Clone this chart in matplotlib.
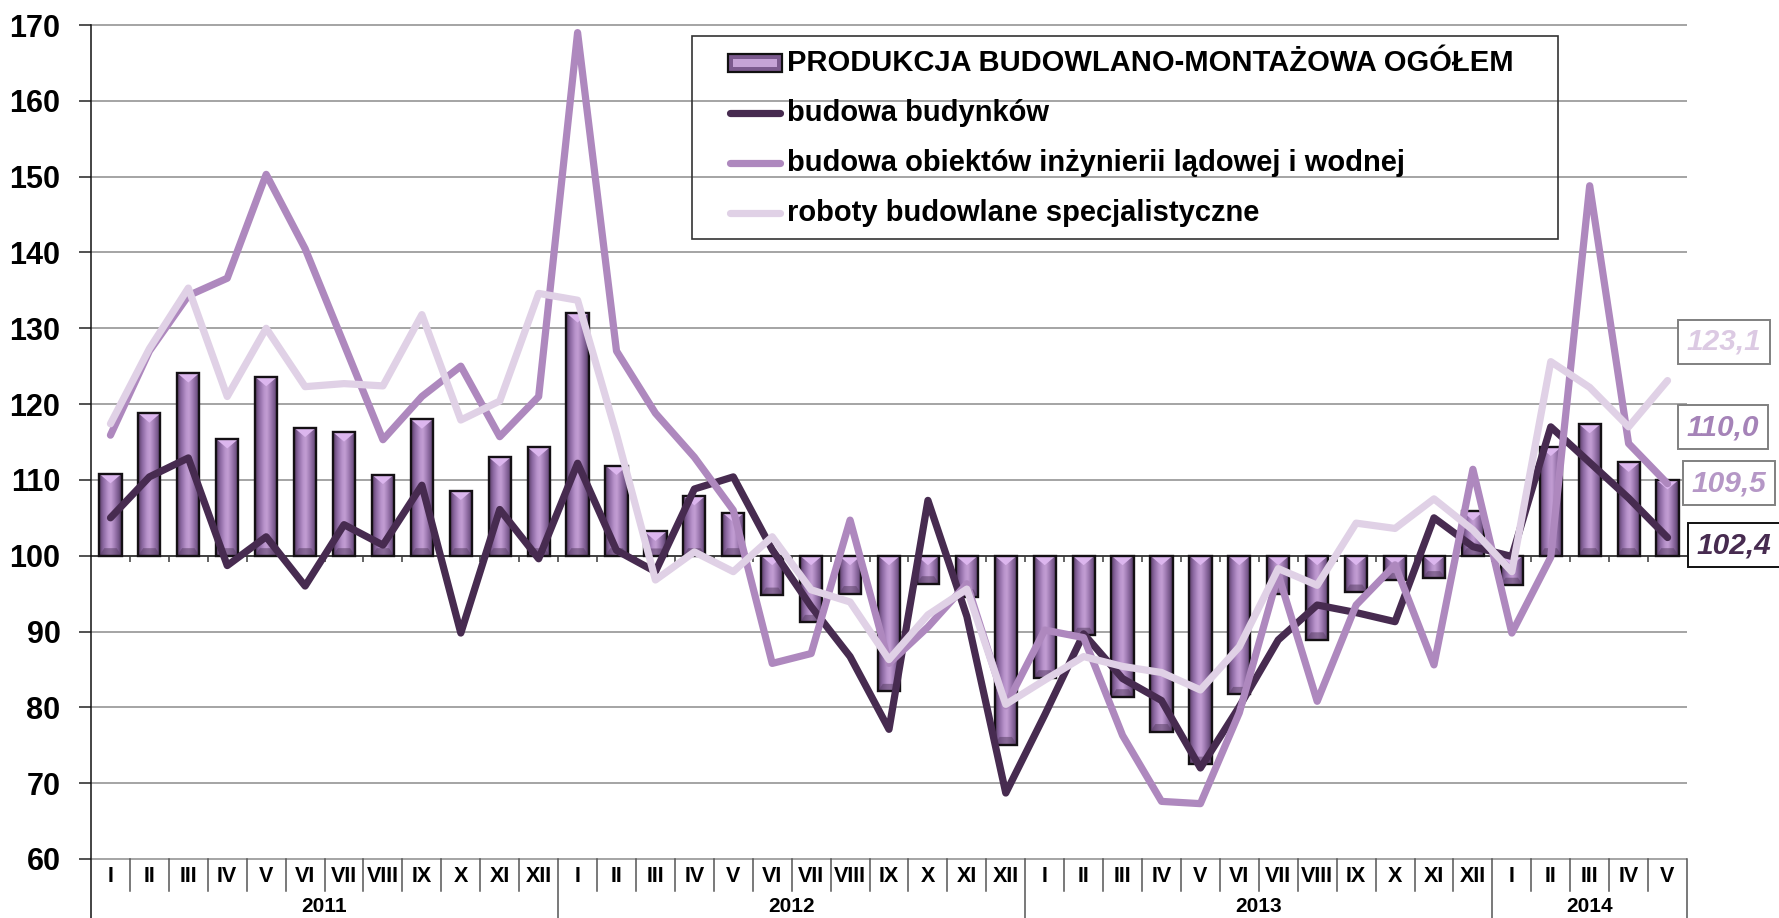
import numpy as np
import matplotlib
matplotlib.use('Agg')
import matplotlib.pyplot as plt
import matplotlib.transforms as mtransforms
from matplotlib.colors import LinearSegmentedColormap
from matplotlib.patches import Rectangle, Polygon
from matplotlib.lines import Line2D

plt.rcParams['font.family'] = ['Liberation Sans', 'DejaVu Sans']

# ---------------- data ----------------
years = ['2011', '2012', '2013', '2014']
months_per_year = [12, 12, 12, 5]
roman = ['I', 'II', 'III', 'IV', 'V', 'VI', 'VII', 'VIII', 'IX', 'X', 'XI', 'XII']
month_labels = [roman[m] for n in months_per_year for m in range(n)]

series_names = ['PRODUKCJA BUDOWLANO-MONTAŻOWA OGÓŁEM',
                'budowa budynków',
                'budowa obiektów inżynierii lądowej i wodnej',
                'roboty budowlane specjalistyczne']

ogolem = [110.8, 118.8, 124.1, 115.4, 123.6, 116.9, 116.3, 110.7, 118.0, 108.6, 113.0, 114.3,
          132.0, 111.9, 103.2, 107.9, 105.7, 94.8, 91.2, 95.0, 82.1, 96.3, 94.6, 75.1,
          83.9, 89.5, 81.4, 76.8, 72.5, 81.7, 94.9, 88.9, 95.2, 96.8, 97.1, 105.9,
          96.1, 114.4, 117.4, 112.3, 110.0]

budynki = [105.0, 110.4, 112.9, 98.7, 102.5, 96.0, 104.1, 101.4, 109.3, 89.8, 106.1, 99.6,
           112.2, 100.7, 97.9, 108.8, 110.4, 100.8, 93.3, 86.7, 77.1, 107.3, 92.0, 68.7,
           79.0, 89.7, 83.8, 80.9, 72.0, 80.1, 88.9, 93.5, 92.5, 91.3, 105.0, 101.2,
           99.9, 117.0, 112.3, 107.6, 102.4]

inzynieria = [115.9, 127.0, 134.3, 136.6, 150.3, 140.5, 127.9, 115.3, 121.0, 125.0, 115.7, 121.0,
              169.0, 127.0, 118.8, 113.0, 106.0, 85.8, 87.1, 104.7, 85.8, 90.6, 96.3, 80.2,
              90.2, 89.2, 76.3, 67.6, 67.3, 79.3, 97.5, 80.8, 93.5, 98.8, 85.6, 111.4,
              89.8, 99.8, 148.8, 114.8, 109.5]

specjalistyczne = [117.4, 127.3, 135.3, 121.0, 130.0, 122.3, 122.7, 122.4, 131.8, 117.9, 120.4, 134.6,
                   133.7, 116.0, 96.8, 100.5, 97.9, 102.5, 95.5, 93.9, 86.3, 92.2, 95.6, 80.4,
                   83.6, 86.7, 85.4, 84.6, 82.3, 88.0, 98.3, 96.1, 104.3, 103.6, 107.5, 103.4,
                   97.9, 125.6, 122.2, 117.0, 123.1]

yticks = list(range(60, 171, 10))
base = 100

# ---------------- style ----------------
W, H, DPI = 1779, 918, 100
c_dark = '#472B50'
c_mid = '#AE88BE'
c_light = '#E0D1E6'
grid_c = '#8C8C8C'

def fx(px):
    return px / W

def fy(py):
    return 1 - py / H

fig = plt.figure(figsize=(W / DPI, H / DPI), dpi=DPI)
ax = fig.add_axes([fx(91), fy(859), (1687 - 91) / W, (859 - 25) / H])

n = len(month_labels)
x = np.arange(n)
ax.set_xlim(-0.5, n - 0.5)
ax.set_ylim(yticks[0], yticks[-1])

# grid lines
ax.hlines(yticks, -0.5, n - 0.5, colors=grid_c, linewidth=1.1, zorder=0, clip_on=False)
ax.axhline(base, color='#3a3a3a', linewidth=1.3, zorder=1)

# ticks on the base (category) axis
bounds = np.arange(n + 1) - 0.5
ax.vlines(bounds[1:-1], base - 0.8, base, colors='#3a3a3a', linewidth=1.1, zorder=1)

# bars
heights = np.array(ogolem) - base
bars = ax.bar(x, heights, bottom=base, width=0.57, facecolor='none',
              edgecolor='#141014', linewidth=1.7, zorder=3)

cmap = LinearSegmentedColormap.from_list('cyl', [
    (0.0, '#553a62'), (0.18, '#8a67a0'), (0.40, '#b994cc'), (0.52, '#c29ed3'),
    (0.68, '#a27db5'), (0.86, '#76578a'), (1.0, '#4a3255')])
grad = np.linspace(0, 1, 256).reshape(1, -1)
for p in bars.patches:
    x0, y0 = p.get_xy()
    w, h = p.get_width(), p.get_height()
    ylo, yhi = min(y0, y0 + h), max(y0, y0 + h)
    im = ax.imshow(grad, extent=[x0, x0 + w, ylo, yhi], cmap=cmap, aspect='auto',
                   interpolation='bilinear', zorder=2.5)
    im.set_clip_path(p)
    hh = yhi - ylo
    th = min(1.25, hh * 0.6)
    ax.add_patch(Polygon([(x0, yhi), (x0 + w, yhi), (x0 + w / 2, yhi - th)],
                         closed=True, facecolor='#dcb6ee', edgecolor='none', zorder=2.7))
    bh = min(1.0, hh * 0.3)
    d = w * 0.22
    ax.add_patch(Polygon([(x0, ylo), (x0 + w, ylo), (x0 + w - d, ylo + bh), (x0 + d, ylo + bh)],
                         closed=True, facecolor='#5a4066', alpha=0.55, edgecolor='none', zorder=2.7))

ax.set_xlim(-0.5, n - 0.5)
ax.set_ylim(yticks[0], yticks[-1])

# lines
for vals, col in [(budynki, c_dark), (inzynieria, c_mid), (specjalistyczne, c_light)]:
    ax.plot(x, vals, color=col, linewidth=5.2, solid_joinstyle='round',
            solid_capstyle='round', zorder=4)

# axes styling
for s in ['top', 'right', 'bottom', 'left']:
    ax.spines[s].set_visible(False)
ax.set_yticks(yticks)
ax.set_yticklabels([str(v) for v in yticks], fontsize=22, fontweight='bold')
ax.tick_params(axis='y', length=9, width=1.1, color='#222222', pad=13)
ax.set_xticks(x)
ax.set_xticklabels(month_labels, fontsize=15.5, fontweight='bold')
ax.tick_params(axis='x', length=0, pad=5)

trans = mtransforms.blended_transform_factory(ax.transData, ax.transAxes)
bottom_ax = -(918 - 859) / (859 - 25) - 0.01
month_sep = -(891 - 859) / (859 - 25)
# y axis line extending to bottom
ax.plot([-0.5, -0.5], [1, bottom_ax], transform=trans, color='#111111', lw=1.1,
        clip_on=False, zorder=5)
year_starts = np.cumsum([0] + months_per_year)
for b in bounds[1:]:
    idx = int(round(b + 0.5))
    y_end = bottom_ax if idx in year_starts else month_sep
    ax.plot([b, b], [0, y_end], transform=trans, color='#555555', lw=1.1, clip_on=False)

for i, yr in enumerate(years):
    c = (year_starts[i] + year_starts[i + 1] - 1) / 2
    ax.text(c, -(907 - 859) / (859 - 25), yr, transform=trans, ha='center', va='center',
            fontsize=15, fontweight='bold')

# legend (manual)
fig.add_artist(Rectangle((fx(692), fy(239)), (1558 - 692) / W, (239 - 36) / H,
                         transform=fig.transFigure, fill=False, edgecolor='#333333', lw=1.2))
rows = [63, 113, 163, 213]
fig.add_artist(Rectangle((fx(728), fy(72)), (782 - 728) / W, (72 - 54) / H,
                         transform=fig.transFigure, facecolor='#7b5a8e', edgecolor='#111111', lw=1.6))
fig.add_artist(Rectangle((fx(733), fy(67)), (777 - 733) / W, (67 - 59) / H,
                         transform=fig.transFigure, facecolor='#c5a3d6', edgecolor='none'))
for r, col in zip(rows[1:], [c_dark, c_mid, c_light]):
    fig.add_artist(Line2D([fx(730), fx(780)], [fy(r), fy(r)], transform=fig.transFigure,
                          color=col, lw=5.2, solid_capstyle='round'))
for r, name in zip(rows, series_names):
    fig.text(fx(787), fy(r), name, fontsize=21, fontweight='bold', ha='left', va='center')

# end value labels
def fmt(v):
    return f'{v:.1f}'.replace('.', ',')

end_labels = [
    (specjalistyczne[-1], '#DCCAE3', '#808080', 1724, 342),
    (ogolem[-1], '#A583B8', '#808080', 1723, 427),
    (inzynieria[-1], '#B597C6', '#808080', 1729, 483),
    (budynki[-1], c_dark, '#111111', 1734, 545),
]
for v, tc, ec, cx, cy in end_labels:
    fig.text(fx(cx), fy(cy), fmt(v), ha='center', va='center', fontsize=21.5,
             fontweight='bold', style='italic', color=tc,
             bbox=dict(boxstyle='square,pad=0.28', facecolor='white', edgecolor=ec, lw=1.4))

fig.savefig('out.png', dpi=DPI, facecolor='white')
